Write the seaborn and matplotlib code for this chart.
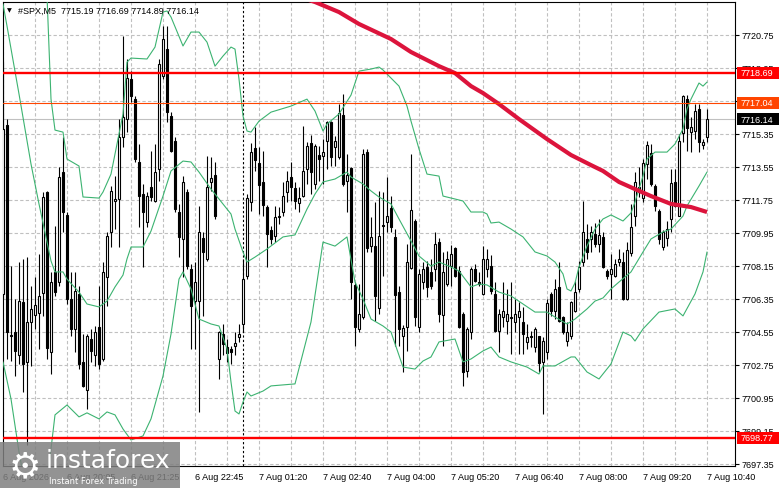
import numpy as np
import pandas as pd
import matplotlib
matplotlib.use("Agg")
import matplotlib.pyplot as plt
import matplotlib.transforms as mtransforms
from matplotlib.patches import Rectangle
import seaborn as sns

# ===============================
# Data (SPX, M5)
# ===============================
opens = [7706.62, 7715.84, 7704.38, 7704.56, 7703.26, 7706.16, 7702.89, 7705.11, 7705.47, 7705.58,
         7706.67, 7712.20, 7703.47, 7707.80, 7707.25, 7713.26, 7710.93, 7706.35, 7704.71, 7706.62,
         7702.89, 7701.35, 7704.16, 7703.26, 7704.80, 7703.07, 7707.53, 7709.98, 7711.71, 7711.80,
         7715.16, 7716.16, 7718.35, 7717.26, 7713.80, 7712.07, 7710.56, 7712.47, 7711.71, 7713.44,
         7718.53, 7719.98, 7716.31, 7714.98, 7711.07, 7709.62, 7712.20, 7707.98, 7706.26, 7706.26,
         7709.65, 7708.53, 7712.75, 7713.11, 7703.07, 7704.44, 7703.75, 7703.62, 7703.76, 7704.25,
         7704.98, 7707.58, 7711.66, 7714.56, 7713.76, 7712.75, 7711.35, 7710.13, 7709.80, 7710.80,
         7711.07, 7712.20, 7712.98, 7712.38, 7711.58, 7711.98, 7713.44, 7714.86, 7712.62, 7714.20,
         7714.13, 7714.98, 7716.02, 7714.62, 7714.07, 7716.38, 7712.80, 7713.47, 7707.11, 7704.71,
         7705.35, 7714.38, 7709.22, 7709.22, 7705.84, 7710.38, 7710.56, 7711.29, 7709.71, 7706.71,
         7704.35, 7704.80, 7708.02, 7710.62, 7704.80, 7707.25, 7708.07, 7707.84, 7707.98, 7709.44,
         7705.47, 7707.16, 7708.16, 7709.11, 7707.89, 7705.53, 7702.44, 7704.53, 7707.98, 7707.29,
         7706.62, 7707.98, 7708.16, 7706.62, 7704.58, 7705.35, 7705.16, 7705.35, 7705.07, 7705.35,
         7705.11, 7703.98, 7704.35, 7703.71, 7704.31, 7702.93, 7703.44, 7706.62, 7705.71, 7706.98,
         7705.35, 7704.07, 7704.31, 7705.71, 7706.89, 7708.35, 7709.62, 7709.62, 7709.89, 7709.35,
         7709.71, 7707.89, 7707.71, 7707.62, 7708.35, 7708.35, 7706.35, 7708.86, 7710.85, 7712.44,
         7711.84, 7713.71, 7714.31, 7712.49, 7711.16, 7709.16, 7709.65, 7710.71, 7712.75, 7710.89,
         7715.40, 7717.26, 7715.47, 7715.53, 7716.71, 7714.76, 7715.19]
highs = [7719.35, 7716.16, 7708.16, 7706.35, 7708.35, 7708.53, 7708.62, 7707.07, 7707.53, 7708.80,
         7712.16, 7712.26, 7707.80, 7710.35, 7713.53, 7715.16, 7711.07, 7707.80, 7707.80, 7707.07,
         7704.44, 7704.44, 7704.71, 7704.89, 7707.07, 7708.35, 7709.98, 7712.53, 7713.07, 7716.16,
         7720.71, 7719.44, 7718.80, 7717.44, 7714.80, 7712.62, 7712.16, 7714.44, 7714.80, 7719.44,
         7721.26, 7721.26, 7716.53, 7715.16, 7711.53, 7713.07, 7712.35, 7708.25, 7708.35, 7711.44,
         7709.98, 7714.16, 7714.07, 7713.80, 7704.62, 7704.98, 7704.16, 7703.80, 7704.53, 7704.98,
         7708.53, 7712.07, 7714.86, 7715.71, 7714.62, 7714.44, 7711.47, 7710.35, 7711.44, 7711.35,
         7712.71, 7713.35, 7713.80, 7712.71, 7712.44, 7715.80, 7714.89, 7715.29, 7714.80, 7714.71,
         7715.07, 7716.07, 7716.07, 7715.25, 7716.98, 7717.53, 7714.26, 7713.53, 7707.25, 7707.16,
         7714.53, 7714.53, 7710.80, 7711.62, 7712.26, 7712.16, 7712.98, 7711.98, 7710.16, 7707.07,
         7704.93, 7709.35, 7714.26, 7710.71, 7707.98, 7708.35, 7708.44, 7708.53, 7709.98, 7709.65,
         7708.89, 7708.98, 7709.29, 7709.16, 7708.16, 7705.62, 7704.80, 7708.07, 7708.25, 7707.80,
         7709.25, 7709.07, 7708.75, 7707.25, 7705.80, 7707.29, 7706.89, 7707.25, 7706.35, 7706.16,
         7705.89, 7704.98, 7704.62, 7704.80, 7704.35, 7704.25, 7706.35, 7706.71, 7707.44, 7708.38,
         7705.44, 7705.07, 7706.26, 7707.35, 7708.44, 7711.71, 7710.44, 7710.35, 7710.49, 7710.71,
         7709.98, 7707.98, 7708.80, 7708.53, 7709.07, 7708.89, 7709.44, 7711.53, 7713.26, 7713.53,
         7713.98, 7714.98, 7714.80, 7712.62, 7711.25, 7710.13, 7710.62, 7713.44, 7713.44, 7715.35,
         7717.47, 7717.47, 7716.25, 7716.98, 7716.98, 7715.07, 7716.69]
lows = [7706.35, 7703.07, 7702.98, 7702.16, 7702.80, 7701.26, 7698.35, 7702.71, 7704.71, 7703.62,
        7705.44, 7703.07, 7702.26, 7706.53, 7707.07, 7709.98, 7706.07, 7704.35, 7703.44, 7702.53,
        7701.53, 7700.35, 7702.89, 7702.71, 7702.53, 7702.98, 7705.98, 7709.16, 7710.16, 7709.16,
        7714.62, 7715.44, 7717.07, 7713.80, 7710.26, 7708.07, 7710.26, 7711.71, 7711.62, 7712.80,
        7718.35, 7715.98, 7714.35, 7711.07, 7708.62, 7707.53, 7707.98, 7703.62, 7703.62, 7700.16,
        7705.44, 7708.44, 7712.26, 7710.71, 7701.98, 7703.26, 7702.89, 7702.80, 7703.26, 7703.98,
        7704.53, 7707.44, 7711.16, 7713.35, 7710.98, 7710.89, 7708.07, 7709.35, 7709.44, 7710.44,
        7710.89, 7711.62, 7711.71, 7711.25, 7711.07, 7711.89, 7712.62, 7712.07, 7712.35, 7712.80,
        7712.62, 7713.44, 7713.62, 7713.62, 7713.98, 7712.53, 7711.07, 7706.35, 7703.80, 7704.53,
        7705.26, 7708.89, 7708.89, 7705.16, 7705.53, 7707.62, 7709.98, 7709.98, 7703.80, 7703.80,
        7702.35, 7703.53, 7707.98, 7704.89, 7704.53, 7706.89, 7706.44, 7706.89, 7707.35, 7705.07,
        7703.80, 7707.07, 7707.07, 7707.53, 7704.75, 7701.62, 7702.07, 7704.16, 7707.25, 7707.07,
        7706.56, 7707.53, 7706.62, 7704.53, 7703.44, 7704.80, 7704.44, 7703.35, 7704.53, 7703.35,
        7703.35, 7703.62, 7703.71, 7703.44, 7702.35, 7700.07, 7703.07, 7705.44, 7705.26, 7705.11,
        7704.44, 7703.80, 7704.16, 7705.62, 7706.71, 7708.16, 7708.53, 7708.89, 7709.16, 7708.89,
        7708.02, 7707.44, 7706.35, 7707.53, 7708.16, 7706.31, 7706.31, 7708.71, 7710.35, 7711.89,
        7711.62, 7712.89, 7712.53, 7711.16, 7709.35, 7709.04, 7709.25, 7709.98, 7711.35, 7710.85,
        7714.89, 7714.44, 7714.35, 7715.07, 7714.35, 7714.53, 7714.89]
closes = [7715.62, 7704.56, 7704.31, 7703.53, 7706.26, 7702.80, 7705.07, 7705.80, 7706.02, 7706.53,
          7711.89, 7703.66, 7707.25, 7706.71, 7712.98, 7711.07, 7706.35, 7704.71, 7706.80, 7702.80,
          7701.62, 7704.35, 7703.53, 7704.53, 7702.80, 7707.80, 7709.80, 7712.26, 7711.80, 7715.16,
          7716.25, 7718.38, 7717.44, 7713.98, 7711.98, 7711.07, 7711.98, 7711.89, 7713.26, 7719.16,
          7720.53, 7716.53, 7714.44, 7711.25, 7709.71, 7712.75, 7708.16, 7705.98, 7707.25, 7709.98,
          7708.89, 7712.44, 7712.93, 7710.89, 7704.53, 7703.89, 7703.40, 7703.47, 7703.95, 7704.44,
          7707.44, 7711.84, 7714.38, 7713.95, 7712.56, 7711.47, 7709.89, 7709.62, 7710.80, 7710.89,
          7711.98, 7712.80, 7712.44, 7711.71, 7711.86, 7713.35, 7714.71, 7713.26, 7714.71, 7713.98,
          7714.35, 7715.98, 7714.07, 7714.98, 7716.47, 7712.62, 7713.11, 7707.29, 7704.80, 7705.53,
          7714.26, 7709.11, 7709.71, 7706.49, 7709.80, 7710.31, 7710.85, 7710.26, 7706.56, 7704.71,
          7704.75, 7708.35, 7711.22, 7705.35, 7707.71, 7707.98, 7706.98, 7707.04, 7709.35, 7705.53,
          7707.84, 7708.53, 7708.80, 7707.62, 7704.80, 7702.35, 7704.71, 7707.98, 7707.35, 7707.16,
          7708.53, 7708.53, 7706.80, 7704.62, 7705.53, 7705.71, 7705.53, 7705.33, 7705.53, 7705.71,
          7704.44, 7704.25, 7704.25, 7704.71, 7702.85, 7704.07, 7706.13, 7705.71, 7706.89, 7705.16,
          7704.56, 7704.56, 7706.20, 7706.71, 7708.07, 7709.98, 7708.89, 7709.98, 7709.35, 7709.84,
          7708.07, 7707.58, 7707.98, 7708.25, 7708.53, 7706.35, 7709.04, 7710.29, 7712.75, 7712.16,
          7713.76, 7714.75, 7712.62, 7711.40, 7709.62, 7709.98, 7710.16, 7712.67, 7711.44, 7714.98,
          7717.44, 7715.66, 7715.71, 7716.62, 7714.89, 7714.89, 7716.14]

# Bollinger bands (bar index, value)
bb_upper_bars = [0, 8, 11, 12, 13, 15, 16, 19, 20, 24, 25, 27, 30, 31, 32, 36, 38, 40, 41, 42,
                 45, 47, 49, 51, 53, 55, 57, 58, 59, 60, 61, 62, 64, 67, 72, 76, 78, 80, 81, 84,
                 87, 89, 92, 94, 95, 99, 101, 102, 104, 106, 109, 110, 113, 115, 117, 120, 121, 122, 124, 127,
                 130, 133, 136, 138, 140, 141, 142, 143, 144, 146, 148, 150, 152, 155, 157, 158, 160, 161, 163, 166,
                 168, 170, 171, 172, 174, 175, 176]
bb_upper = [7728.00, 7727.00, 7722.90, 7717.25, 7715.56, 7715.45, 7713.98, 7713.60, 7711.91, 7711.85,
            7712.18, 7713.16, 7716.44, 7719.27, 7719.49, 7719.44, 7720.09, 7722.00, 7722.06, 7721.73,
            7720.15, 7720.91, 7720.91, 7720.36, 7719.05, 7719.60, 7720.09, 7719.98, 7718.35, 7716.33,
            7715.51, 7715.45, 7716.05, 7716.54, 7716.87, 7717.25, 7716.60, 7715.51, 7715.89, 7716.44,
            7717.47, 7718.78, 7718.89, 7719.00, 7718.84, 7717.96, 7716.87, 7716.05, 7714.53, 7713.16,
            7713.05, 7711.96, 7711.80, 7711.69, 7711.09, 7711.09, 7710.98, 7710.49, 7710.54, 7710.16,
            7709.73, 7708.91, 7708.69, 7708.36, 7707.71, 7706.89, 7706.78, 7707.22, 7708.09, 7709.23,
            7710.16, 7710.71, 7710.93, 7710.60, 7711.04, 7711.64, 7713.05, 7713.98, 7714.36, 7714.36,
            7714.80, 7715.62, 7716.71, 7717.25, 7718.13, 7717.96, 7718.18]
bb_mid_bars = [0, 1, 4, 7, 9, 12, 13, 15, 16, 19, 21, 24, 26, 28, 30, 31, 32, 35, 37, 40,
               42, 45, 47, 49, 52, 54, 57, 58, 60, 61, 63, 66, 70, 73, 76, 78, 80, 83, 86, 87,
               90, 92, 94, 97, 99, 102, 104, 107, 109, 112, 114, 117, 119, 121, 124, 127, 130, 133, 136, 138,
               141, 143, 146, 148, 150, 152, 154, 157, 160, 162, 165, 167, 170, 171, 174, 176]
bb_mid = [7722.44, 7721.24, 7717.53, 7713.71, 7711.53, 7708.42, 7707.82, 7707.82, 7707.43, 7706.72,
          7706.07, 7705.91, 7706.23, 7707.00, 7707.65, 7708.53, 7709.18, 7709.18, 7710.05, 7711.96,
          7713.33, 7713.87, 7713.82, 7713.27, 7712.34, 7711.80, 7710.98, 7710.16, 7708.91, 7708.36,
          7708.63, 7709.07, 7709.73, 7709.84, 7711.25, 7712.07, 7712.73, 7712.89, 7713.27, 7713.00,
          7712.62, 7712.24, 7711.91, 7711.53, 7710.71, 7709.51, 7708.69, 7708.14, 7708.36, 7708.09,
          7707.87, 7707.00, 7707.16, 7707.11, 7706.72, 7706.51, 7706.07, 7705.63, 7705.63, 7705.36,
          7704.98, 7705.25, 7705.80, 7706.23, 7706.40, 7706.89, 7707.27, 7707.82, 7708.91, 7709.62,
          7710.00, 7710.16, 7710.87, 7711.42, 7712.51, 7713.27]
bb_lower_bars = [0, 2, 4, 5, 8, 11, 12, 13, 16, 19, 21, 24, 26, 28, 30, 32, 35, 37, 40, 42,
                 44, 45, 47, 49, 52, 54, 56, 57, 58, 59, 60, 61, 62, 65, 67, 73, 77, 80, 83, 86,
                 88, 90, 92, 95, 97, 100, 103, 105, 107, 109, 113, 115, 117, 120, 122, 124, 127, 131, 134, 135,
                 138, 142, 143, 146, 149, 152, 155, 157, 158, 160, 164, 168, 170, 173, 175, 176]
bb_lower = [7702.91, 7700.89, 7698.00, 7696.80, 7695.71, 7696.25, 7698.16, 7700.02, 7700.56, 7699.91,
            7700.13, 7699.80, 7700.18, 7700.02, 7699.25, 7698.65, 7698.87, 7699.80, 7702.14, 7704.43,
            7707.43, 7707.82, 7706.89, 7705.25, 7704.98, 7704.87, 7703.62, 7701.81, 7700.23, 7700.07,
            7700.72, 7701.27, 7701.05, 7701.32, 7701.60, 7701.71, 7705.09, 7709.45, 7709.23, 7709.73,
            7707.27, 7706.34, 7705.25, 7704.87, 7704.54, 7702.63, 7702.52, 7702.96, 7703.18, 7704.00,
            7704.16, 7702.91, 7703.07, 7703.51, 7703.72, 7703.18, 7702.91, 7702.63, 7702.25, 7702.69,
            7702.69, 7703.18, 7703.18, 7702.36, 7701.98, 7702.80, 7704.54, 7704.33, 7704.05, 7704.71,
            7705.63, 7705.80, 7705.42, 7706.62, 7707.82, 7708.91]

# Moving average (bar index, value)
ma_bars = [72, 78, 84, 89, 97, 102, 109, 113, 117, 120, 124, 129, 136, 142, 147, 150, 154, 158, 162, 167, 172, 176]
ma_vals = [7722.98, 7722.55, 7722.00, 7721.35, 7720.53, 7719.82, 7719.05, 7718.67, 7717.96, 7717.58,
           7716.98, 7716.16, 7715.07, 7714.20, 7713.65, 7713.33, 7712.73, 7712.34, 7711.96, 7711.53,
           7711.36, 7711.09]

# Levels
resistance_1 = 7718.69
resistance_2 = 7717.04
bid_price = 7716.14
support_1 = 7698.77

y_ticks = [7697.35, 7699.15, 7700.95, 7702.75, 7704.55, 7706.35, 7708.15, 7709.95,
           7711.75, 7713.55, 7715.35, 7717.15, 7718.95, 7720.75]
x_tick_bars = [0, 16, 32, 48, 64, 80, 96, 112, 128, 144, 160, 176]
x_tick_labels = ["6 Aug 2026", "6 Aug 20:05", "6 Aug 21:25", "6 Aug 22:45", "7 Aug 01:20",
                 "7 Aug 02:40", "7 Aug 04:00", "7 Aug 05:20", "7 Aug 06:40", "7 Aug 08:00",
                 "7 Aug 09:20", "7 Aug 10:40"]
day_separator_bar = 60
header = "#SPX,M5  7715.19 7716.69 7714.89 7716.14"

# ===============================
# Style
# ===============================
sns.set_style("white")
plt.rcParams['font.family'] = ['Liberation Sans', 'DejaVu Sans']
FS = 6.5

W, H = 781, 489
fig = plt.figure(figsize=(W / 100, H / 100), dpi=100)
fig.patch.set_facecolor("white")


def px(x):
    return x / W


def py(y):
    return 1 - y / H


ax = fig.add_axes([px(3), py(467), px(735) - px(3), py(3) - py(467)])
ax.set_facecolor("white")

ax.set_xlim(0, 183)
ax.set_ylim(7697.23, 7722.55)

# grid
ax.set_yticks(y_ticks)
ax.set_xticks(x_tick_bars)
ax.set_xticks(np.arange(8, 183, 16), minor=True)
ax.grid(True, which="both", color="#c0c0c0", linestyle=(0, (3, 2)), linewidth=0.8)
ax.set_axisbelow(True)

# ===============================
# Candles
# ===============================
o = np.array(opens)
h = np.array(highs)
l = np.array(lows)
c = np.array(closes)
idx = np.arange(len(c))
up = c >= o

ax.vlines(idx, l, h, color="black", linewidth=0.8, zorder=3)
body_low = np.minimum(o, c)
body_h = np.maximum(np.abs(c - o), 0.03)
ax.bar(idx[up], body_h[up], bottom=body_low[up], width=0.55,
       color="white", edgecolor="black", linewidth=0.8, zorder=4)
ax.bar(idx[~up], body_h[~up], bottom=body_low[~up], width=0.55,
       color="black", edgecolor="black", linewidth=0.8, zorder=4)

# ===============================
# Indicators
# ===============================
green = "#3cb371"
sns.lineplot(x=bb_upper_bars, y=bb_upper, ax=ax, color=green, linewidth=0.8, zorder=5)
sns.lineplot(x=bb_mid_bars, y=bb_mid, ax=ax, color=green, linewidth=0.8, zorder=5)
sns.lineplot(x=bb_lower_bars, y=bb_lower, ax=ax, color=green, linewidth=0.8, zorder=5)
sns.lineplot(x=ma_bars, y=ma_vals, ax=ax, color="#dc143c", linewidth=3.0, zorder=6,
             solid_capstyle="butt")

# levels
ax.axhline(resistance_1, color="#ff0000", linewidth=1.7, zorder=7)
ax.axhline(resistance_2, color="#ff4500", linewidth=0.8, zorder=7)
ax.axhline(bid_price, color="#c0c0c0", linewidth=0.8, zorder=2)
ax.axhline(support_1, color="#ff0000", linewidth=1.7, zorder=7)
ax.axvline(day_separator_bar, color="black", linestyle=(0, (2, 2)), linewidth=0.8, zorder=2)

# ===============================
# Axes / ticks
# ===============================
ax.set_xlabel("")
ax.set_ylabel("")
ax.yaxis.tick_right()
ax.set_yticklabels([f"{v:.2f}" for v in y_ticks])
ax.set_xticklabels(x_tick_labels)
for lab in ax.get_xticklabels():
    lab.set_horizontalalignment("left")
ax.tick_params(axis="y", which="major", direction="out", length=3, width=0.8,
               labelsize=FS, pad=2, colors="black", right=True, left=False)
ax.tick_params(axis="x", which="major", direction="out", length=3, width=0.8,
               labelsize=FS, pad=1.5, colors="black")
ax.tick_params(axis="x", which="minor", length=0)
for sp in ax.spines.values():
    sp.set_color("black")
    sp.set_linewidth(0.8)

# price boxes on the right scale
box_trans = mtransforms.blended_transform_factory(fig.transFigure, ax.transData)
txt_trans = mtransforms.offset_copy(
    mtransforms.blended_transform_factory(ax.transAxes, ax.transData),
    fig=fig, x=5.5, y=0, units="dots")
box_h = 12 / (464 / (7722.55 - 7697.23))
for val, fc in [(resistance_1, "#ff0000"), (resistance_2, "#ff4500"),
                (bid_price, "black"), (support_1, "#ff0000")]:
    ax.add_patch(Rectangle((px(737), val - box_h / 2), px(42), box_h, transform=box_trans,
                           facecolor=fc, edgecolor="none", clip_on=False, zorder=9))
    ax.text(1.0, val, f"{val:.2f}", transform=txt_trans, ha="left", va="center",
            fontsize=FS, color="white", clip_on=False, zorder=10)

# header
fig.text(px(7), py(10.5), "\u25bc", fontsize=4.5, ha="left", va="center",
         family="DejaVu Sans", color="black")
fig.text(px(18), py(11), header, fontsize=FS, ha="left", va="center", color="black")

# watermark
fig.add_artist(Rectangle((0, py(489)), px(180), py(443) - py(489), transform=fig.transFigure,
                         facecolor="#808080", edgecolor="none", alpha=0.85, zorder=20))
fig.text(px(25), py(467), "\u2699", fontsize=26, ha="center", va="center",
         family="DejaVu Sans", color="white", zorder=21)
fig.text(px(46), py(468), "instaforex", fontsize=18, ha="left", va="baseline",
         family="DejaVu Sans", color="white", zorder=21)
fig.text(px(49), py(484.5), "Instant Forex Trading", fontsize=6, ha="left", va="baseline",
         family="DejaVu Sans", color="white", zorder=21)

fig.savefig("out.png", dpi=100)
